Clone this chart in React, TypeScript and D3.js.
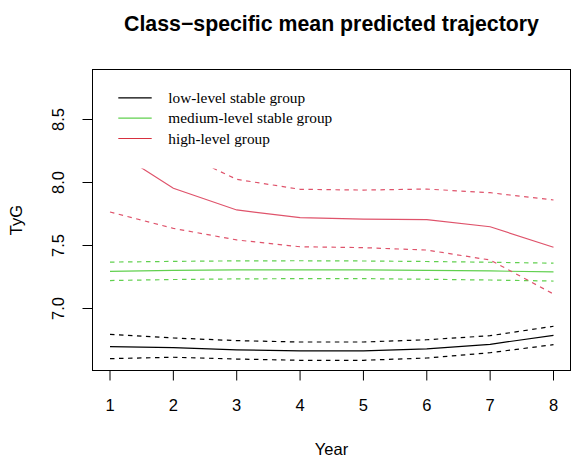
import React from "react";
import * as d3 from "d3";

// Survey years on the x axis
const years = [1, 2, 3, 4, 5, 6, 7, 8];

// Class-specific mean predicted TyG with 95% bounds
const lowMean = [6.697, 6.690, 6.672, 6.663, 6.663, 6.679, 6.716, 6.787];
const lowUpper = [6.795, 6.766, 6.745, 6.734, 6.734, 6.752, 6.784, 6.859];
const lowLower = [6.602, 6.613, 6.599, 6.589, 6.589, 6.607, 6.649, 6.713];

const midMean = [7.295, 7.303, 7.306, 7.307, 7.306, 7.303, 7.298, 7.290];
const midUpper = [7.368, 7.374, 7.378, 7.379, 7.377, 7.373, 7.367, 7.360];
const midLower = [7.222, 7.230, 7.235, 7.237, 7.237, 7.232, 7.226, 7.218];

const highMean = [8.276, 7.954, 7.782, 7.721, 7.710, 7.705, 7.649, 7.486];
const highUpper = [8.786, 8.263, 8.025, 7.946, 7.940, 7.948, 7.919, 7.861];
const highLower = [7.766, 7.636, 7.544, 7.490, 7.483, 7.464, 7.385, 7.115];

const yTicks = [7.0, 7.5, 8.0, 8.5];
const legendLabels = ["low-level stable group", "medium-level stable group", "high-level group"];

const BLACK = "#000000";
const GREEN = "#61D04F";
const RED = "#DF536B";
const LEGEND_COLORS = [BLACK, GREEN, "#D7303F"];

const W = 572;
const H = 457;
const box = { left: 92.5, right: 570.5, top: 69.5, bottom: 370.5 };

const x = d3.scaleLinear().domain([1, 8]).range([110, 553.5]);
const y = d3.scaleLinear().domain([7.0, 8.5]).range([308.5, 119.5]);

const line = d3
  .line<number>()
  .x((_, i) => x(years[i]))
  .y((v) => y(v));

const sans = "'Liberation Sans', Arial, Helvetica, sans-serif";
const serif = "'Liberation Serif', 'Times New Roman', serif";

type Series = { values: number[]; color: string; dashed: boolean };

const series: Series[] = [
  { values: lowMean, color: BLACK, dashed: false },
  { values: lowUpper, color: BLACK, dashed: true },
  { values: lowLower, color: BLACK, dashed: true },
  { values: midMean, color: GREEN, dashed: false },
  { values: midUpper, color: GREEN, dashed: true },
  { values: midLower, color: GREEN, dashed: true },
  { values: highMean, color: RED, dashed: false },
  { values: highUpper, color: RED, dashed: true },
  { values: highLower, color: RED, dashed: true },
];

export default function App() {
  const legendRowY = (i: number) => 97.9 + i * 20.3;
  return (
    <svg
      width={W}
      height={H}
      viewBox={`0 0 ${W} ${H}`}
      style={{ position: "absolute", left: 0, top: 0, background: "#fff" }}
    >
      <defs>
        <clipPath id="plotClip">
          <rect x={box.left} y={box.top} width={box.right - box.left} height={box.bottom - box.top} />
        </clipPath>
      </defs>

      <text
        x={(box.left + box.right) / 2}
        y={30.5}
        textAnchor="middle"
        fontFamily={sans}
        fontWeight="bold"
        fontSize={21.3}
        fill="#000"
      >
        Class−specific mean predicted trajectory
      </text>

      <g clipPath="url(#plotClip)">
        {series.map((s, i) => (
          <path
            key={i}
            d={line(s.values) || ""}
            fill="none"
            stroke={s.color}
            strokeWidth={1.2}
            strokeDasharray={s.dashed ? "4.5,4.5" : undefined}
          />
        ))}

        {/* legend with an opaque white background */}
        <rect x={100} y={74} width={245} height={94.5} fill="#fff" />
        {legendLabels.map((lab, i) => (
          <g key={lab}>
            <line
              x1={118.3}
              x2={151.7}
              y1={legendRowY(i)}
              y2={legendRowY(i)}
              stroke={LEGEND_COLORS[i]}
              strokeWidth={1.2}
            />
            <text
              x={168.3}
              y={legendRowY(i) + 5}
              fontFamily={serif}
              fontSize={15.3}
              fill="#000"
            >
              {lab}
            </text>
          </g>
        ))}
      </g>

      <rect
        x={box.left}
        y={box.top}
        width={box.right - box.left}
        height={box.bottom - box.top}
        fill="none"
        stroke="#000"
        strokeWidth={1}
      />

      {/* x axis */}
      {years.map((t) => (
        <g key={t}>
          <line x1={x(t)} x2={x(t)} y1={box.bottom} y2={box.bottom + 10} stroke="#000" />
          <text x={x(t)} y={411} textAnchor="middle" fontFamily={sans} fontSize={16.5} fill="#000">
            {t}
          </text>
        </g>
      ))}
      <text x={(box.left + box.right) / 2} y={455} textAnchor="middle" fontFamily={sans} fontSize={16.5} fill="#000">
        Year
      </text>

      {/* y axis */}
      {yTicks.map((t) => (
        <g key={t}>
          <line x1={box.left} x2={box.left - 10} y1={y(t)} y2={y(t)} stroke="#000" />
          <text
            transform={`translate(63.5, ${y(t)}) rotate(-90)`}
            textAnchor="middle"
            fontFamily={sans}
            fontSize={16.5}
            fill="#000"
          >
            {d3.format(".1f")(t)}
          </text>
        </g>
      ))}
      <text
        transform={`translate(21.5, ${(box.top + box.bottom) / 2}) rotate(-90)`}
        textAnchor="middle"
        fontFamily={sans}
        fontSize={16.5}
        fill="#000"
      >
        TyG
      </text>
    </svg>
  );
}
